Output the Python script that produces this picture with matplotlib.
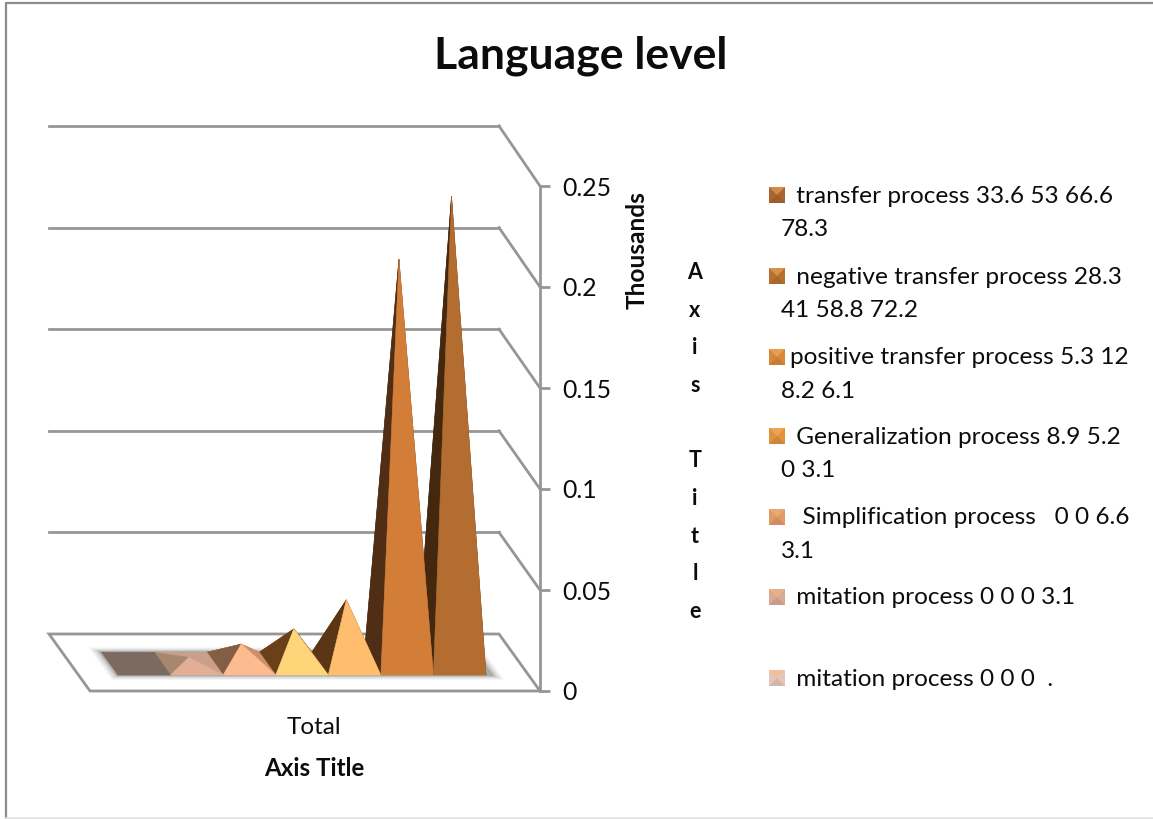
"""
Language level chart: an Excel style 3D pyramid chart.
One pyramid per process, height = sum of its four values (in thousands).
"""

import matplotlib
matplotlib.use("Agg")
import matplotlib.pyplot as plt
from matplotlib.colors import to_rgb
from matplotlib.lines import Line2D
from matplotlib.patches import Polygon

plt.rcParams['font.family'] = ['Lato', 'DejaVu Sans']

# ----------------------------------------------------------------
# Data, left to right as the pyramids stand on the floor
# ----------------------------------------------------------------
imitation_empty = [0, 0, 0, 0]
imitation = [0, 0, 0, 3.1]
simplification = [0, 0, 6.6, 3.1]
generalization = [8.9, 5.2, 0, 3.1]
positive_transfer = [5.3, 12, 8.2, 6.1]
negative_transfer = [28.3, 41, 58.8, 72.2]
transfer = [33.6, 53, 66.6, 78.3]

series = [imitation_empty, imitation, simplification, generalization,
          positive_transfer, negative_transfer, transfer]

front_colors = ['#7c6a60', '#e2af96', '#fdbc8f', '#ffd57a', '#ffbd6e', '#d27e39', '#b46d30']
left_colors = ['#7c6a60', '#a8876f', '#845d45', '#6a401b', '#5a3616', '#4f2e15', '#43280f']
right_colors = ['#7c6a60', '#c9a08a', '#cc9068', '#8a5a2a', '#7a4c20', '#6b3f1c', '#5a3615']

y_ticks = [0, 0.05, 0.1, 0.15, 0.2, 0.25]
y_tick_labels = ['0', '0.05', '0.1', '0.15', '0.2', '0.25']

legend_lines = [
    (" transfer process 33.6 53 66.6", "78.3"),
    (" negative transfer process 28.3", "41 58.8 72.2"),
    ("positive transfer process 5.3 12", "8.2 6.1"),
    (" Generalization process 8.9 5.2", "0 3.1"),
    ("  Simplification process   0 0 6.6", "3.1"),
    (" mitation process 0 0 0 3.1", ""),
    (" mitation process 0 0 0  .", ""),
]
legend_colors = ['#a8662e', '#b87030', '#d8883a', '#e0923c', '#e09a68', '#d8aa94', '#e6c6b8']
legend_y = [195, 276, 357, 436, 517, 597, 678]

# ----------------------------------------------------------------
# Layout in pixels of the 1153x819 picture
# ----------------------------------------------------------------
W, H = 1153, 819
PX_X = 52.57     # pixels for one pyramid width
PX_Y = 2020.0    # pixels for one unit of "thousands"
X0 = 129.5       # pixel of position 0 on the front floor edge
Y0 = 691.0       # pixel of value 0 on the front floor edge

DEPTH_X = -41 / PX_X     # shift of the back wall, in data units
DEPTH_Y = 57 / PX_Y
FLOOR_LEFT = (90 - X0) / PX_X
FLOOR_RIGHT = (540 - X0) / PX_X
FRONT = 0.28             # depth of the pyramid front
BACK = 0.68              # depth of the pyramid back
GRAY = '#969696'
INK = '#0c0c0c'

fig = plt.figure(figsize=(W / 100, H / 100), dpi=100)
ax = fig.add_axes([0, 0, 1, 1])
ax.set_xlim(-X0 / PX_X, (W - X0) / PX_X)
ax.set_ylim((Y0 - H) / PX_Y, Y0 / PX_Y)
ax.patch.set_alpha(0)


def project(pos, depth, value):
    """Position along the floor, depth into the chart, height -> data coords."""
    return pos + depth * DEPTH_X, value + depth * DEPTH_Y


def pixel(px, py):
    """Picture pixel -> data coords, for the texts and the border."""
    return (px - X0) / PX_X, (Y0 - py) / PX_Y


def mix(color, other, amount):
    """Blend a colour towards another one."""
    return tuple(a + (b - a) * amount for a, b in zip(to_rgb(color), to_rgb(other)))


# ----------------------------------------------------------------
# Floor and back wall
# ----------------------------------------------------------------
floor = [project(FLOOR_LEFT, 0, 0), project(FLOOR_RIGHT, 0, 0),
         project(FLOOR_RIGHT, 1, 0), project(FLOOR_LEFT, 1, 0)]
ax.add_patch(Polygon(floor, closed=True, fill=False, edgecolor=GRAY, linewidth=2, zorder=2))

for tick in y_ticks[1:]:
    corner = project(FLOOR_RIGHT, 1, tick * 1.006)
    ax.plot(*zip(project(FLOOR_LEFT, 1, tick * 1.006), corner), color=GRAY, lw=2, zorder=2)
    ax.plot(*zip(corner, project(FLOOR_RIGHT, 0, tick)), color=GRAY, lw=2, zorder=2)

# real right axis, placed at the front corner of the floor
ax.spines[['left', 'top', 'bottom']].set_visible(False)
ax.spines['right'].set_position(('data', FLOOR_RIGHT))
ax.spines['right'].set_bounds(0, y_ticks[-1])
ax.spines['right'].set_color(GRAY)
ax.spines['right'].set_linewidth(2)
ax.yaxis.tick_right()
ax.set_xticks([])
ax.set_yticks(y_ticks, y_tick_labels)
ax.tick_params(axis='y', color=GRAY, width=2, length=7, pad=9, labelsize=17.8, labelcolor=INK)

# ----------------------------------------------------------------
# Soft shadow under the row of pyramids
# ----------------------------------------------------------------
n = len(series)
for grow, alpha in [(0.18, 0.08), (0.13, 0.12), (0.08, 0.17), (0.04, 0.24)]:
    shadow = [project(-grow, FRONT - grow / 2.2, 0), project(n + grow + 0.1, FRONT - grow / 2.2, 0),
              project(n + grow + 0.1, BACK + grow / 2.2, 0), project(-grow, BACK + grow / 2.2, 0)]
    ax.add_patch(Polygon(shadow, closed=True, color='#555555', alpha=alpha, lw=0, zorder=3))

# ----------------------------------------------------------------
# Pyramids: all left sides, then all right sides, then all fronts
# ----------------------------------------------------------------
for i, values in enumerate(series):
    height = sum(values) / 1000
    apex = project(i + 0.5, (FRONT + BACK) / 2, height)
    front_l = project(i, FRONT, 0)
    front_r = project(i + 1, FRONT, 0)
    back_l = project(i, BACK, 0)
    back_r = project(i + 1, BACK, 0)
    ax.add_patch(Polygon([back_l, back_r, apex], color=right_colors[i], lw=0.4, zorder=4))
    ax.add_patch(Polygon([front_l, back_l, apex], color=left_colors[i], lw=0.4, zorder=5))
    ax.add_patch(Polygon([front_r, back_r, apex], color=right_colors[i], lw=0.4, zorder=6))
    ax.add_patch(Polygon([front_l, front_r, apex], color=front_colors[i], lw=0.4, zorder=7))

# ----------------------------------------------------------------
# Texts
# ----------------------------------------------------------------
ax.text(*pixel(581, 56), "Language level", fontsize=32, fontweight='bold', ha='center', va='center', color=INK)
ax.text(*pixel(314, 727), "Total", fontsize=17.5, ha='center', va='center', color=INK)
ax.text(*pixel(314, 769), "Axis Title", fontsize=17.4, fontweight='bold', ha='center', va='center', color=INK)
ax.text(*pixel(637, 250), "Thousands", fontsize=17.6, fontweight='bold', rotation=90, ha='center', va='center', color=INK)
ax.text(*pixel(695, 442), "A\nx\ni\ns\n\nT\ni\nt\nl\ne", fontsize=15.5, fontweight='bold',
        ha='center', va='center', linespacing=1.98, color=INK)

# ----------------------------------------------------------------
# Legend: small beveled keys and two-line texts
# ----------------------------------------------------------------
for (first, second), color, y in zip(legend_lines, legend_colors, legend_y):
    l, r, t, b = 769, 785, y - 8, y + 8
    mid = (777, y)
    ax.add_patch(Polygon([pixel(l, t), pixel(r, t), pixel(r, b), pixel(l, b)], color=color, lw=0, zorder=5))
    ax.add_patch(Polygon([pixel(l, t), pixel(r, t), pixel(*mid)], color=mix(color, '#ffb870', 0.45), lw=0, zorder=6))
    ax.add_patch(Polygon([pixel(l, b), pixel(r, b), pixel(*mid)], color=mix(color, '#000000', 0.08), lw=0, zorder=6))
    ax.text(*pixel(790, y + 1), first, fontsize=17.55, ha='left', va='center', color=INK)
    if second:
        ax.text(*pixel(781, y + 34), second, fontsize=17.55, ha='left', va='center', color=INK)

# ----------------------------------------------------------------
# Chart border: left, top and a faint bottom line
# ----------------------------------------------------------------
ax.add_line(Line2D(*zip(pixel(6, 819), pixel(6, 3), pixel(1153, 3)), color='#8c8c8c', lw=1.6))
ax.add_line(Line2D(*zip(pixel(6, 818), pixel(1153, 818)), color='#e2e2e2', lw=1.2))

fig.savefig("out.png", dpi=100, facecolor='white')
